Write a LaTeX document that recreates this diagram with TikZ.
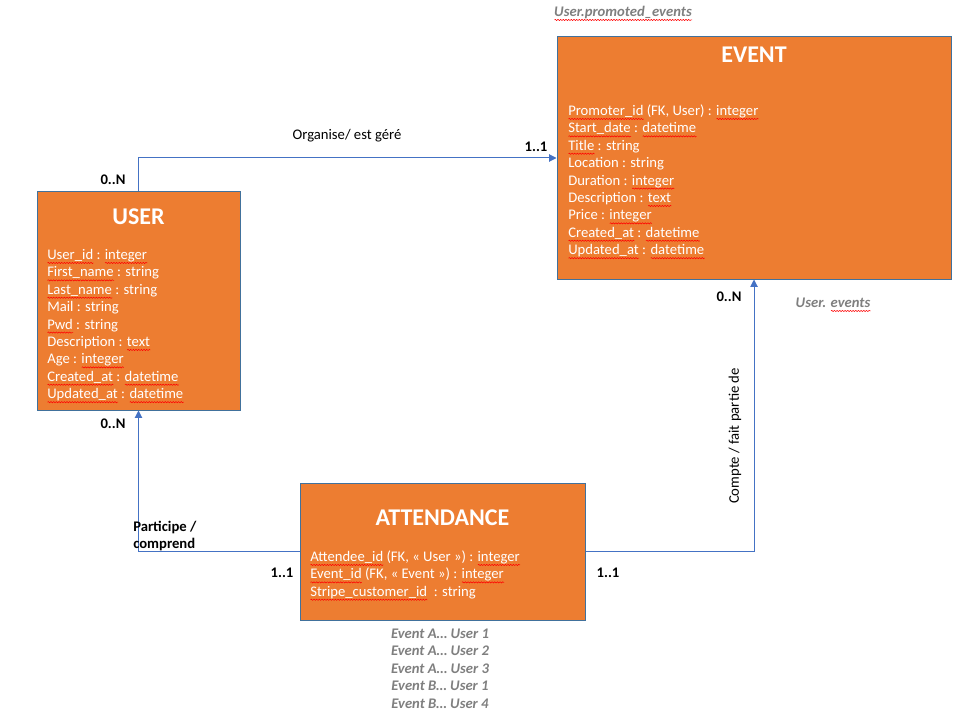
\documentclass[tikz,border=0pt]{standalone}
\usepackage{fontspec}
\setmainfont{Carlito}
\usetikzlibrary{arrows.meta,decorations.pathmorphing}
\definecolor{boxfill}{HTML}{ED7D31}
\definecolor{boxline}{HTML}{41719C}
\definecolor{conn}{HTML}{4472C4}
\definecolor{note}{HTML}{7F7F7F}
\newsavebox\sqbox
\newcommand\sq[1]{\sbox\sqbox{#1}\mbox{\rlap{\tikz[baseline=2.6pt]\draw[red,line width=0.4pt,decorate,decoration={snake,amplitude=0.45pt,segment length=2pt}] (0pt,0pt) -- (\wd\sqbox,0pt);}\usebox\sqbox}}
\begin{document}
\begin{tikzpicture}[x=0.75pt,y=-0.75pt,
  entity/.style={draw=boxline,fill=boxfill,line width=0.75pt,inner sep=0pt},
  title/.style={text=white,font=\fontsize{18}{22}\selectfont\bfseries,inner sep=0pt,anchor=base},
  fields/.style={text=white,font=\fontsize{11}{13.05}\selectfont,align=left,inner sep=0pt,anchor=base west},
  link/.style={draw=conn,line width=0.75pt,-{Triangle[length=5.5pt,width=5.5pt]}},
  card/.style={font=\fontsize{11}{13}\selectfont\bfseries,inner sep=0pt,anchor=base},
  rel/.style={font=\fontsize{11}{13}\selectfont,inner sep=0pt},
  note/.style={text=note,font=\fontsize{11}{13.05}\selectfont\bfseries\itshape,inner sep=0pt}]
\useasboundingbox (0,0) rectangle (962,727);

% entities
\node[entity,minimum width=295.5pt,minimum height=181.5pt] (event) at (754,158) {};
\node[entity,minimum width=152.25pt,minimum height=163.5pt] (user) at (138.5,301) {};
\node[entity,minimum width=213.75pt,minimum height=102.75pt] (att) at (442.5,551.5) {};

\node[title] (eventT) at (754,63) {EVENT};
\node[title] (userT) at (138.5,224) {USER};
\node[title] (attT) at (442.5,525) {ATTENDANCE};

% anchor = baseline of the last line
\node[fields] (eventF) at (568,254.7) {\sq{Promoter\_id} (FK, User) : \sq{integer}\\
\sq{Start\_date} : \sq{datetime}\\
\sq{Title} : string\\
Location : string\\
Duration : \sq{integer}\\
Description : \sq{text}\\
Price : \sq{integer}\\
\sq{Created\_at} : \sq{datetime}\\
\sq{Updated\_at} : \sq{datetime}};

\node[fields] (userF) at (47,398.7) {\sq{User\_id} : \sq{integer}\\
\sq{First\_name} : string\\
\sq{Last\_name} : string\\
Mail : string\\
\sq{Pwd} : string\\
Description : \sq{text}\\
Age : \sq{integer}\\
\sq{Created\_at} : \sq{datetime}\\
\sq{Updated\_at} : \sq{datetime}};

\node[fields] (attF) at (310,596.3) {\sq{Attendee\_id} (FK, « User ») : \sq{integer}\\
\sq{Event\_id} (FK, « Event ») : \sq{integer}\\
\sq{Stripe\_customer\_id}\ \ : string};

% connectors
\draw[link] (user.north) |- (event.west);
\draw[link] (att.west) -| (user.south);
\draw[link] (att.east) -| (event.south);

% relation labels
\node[rel,anchor=base] (orgL) at (347,140) {Organise/ est géré};
\node[rel,rotate=90] (compL) at (735,436) {Compte / fait partie de};
\node[card,anchor=base west,align=left] (partL) at (133,548.9) {Participe /\\comprend};

% cardinalities
\node[card] (c1) at (536,151.5) {1..1};
\node[card] (c2) at (113,184.5) {0..N};
\node[card] (c3) at (113,428.5) {0..N};
\node[card] (c4) at (282,577.5) {1..1};
\node[card] (c5) at (608,577.5) {1..1};
\node[card] (c6) at (729,301.5) {0..N};

% notes
\node[note,anchor=base] (n1) at (623,16.5) {\sq{User.promoted\_events}};
\node[note,anchor=base] (n2) at (833,307.5) {User. \sq{events}};
\node[note,anchor=base,align=center] (n3) at (440,708.1) {Event A… User 1\\Event A… User 2\\Event A… User 3\\Event B… User 1\\Event B… User 4};
\end{tikzpicture}
\end{document}
